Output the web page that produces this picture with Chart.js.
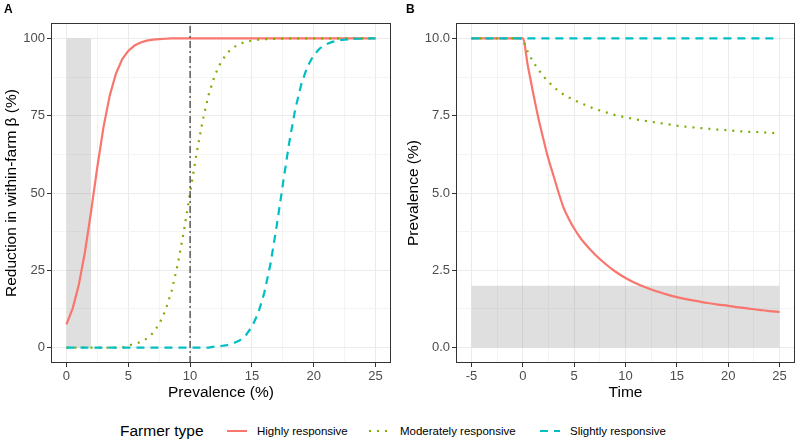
<!DOCTYPE html>
<html><head><meta charset="utf-8">
<script src="https://cdn.jsdelivr.net/npm/chart.js@4/dist/chart.umd.min.js"></script>
<style>
body{margin:0;background:#fff;width:797px;height:440px;overflow:hidden;position:relative;font-family:"Liberation Sans",Arial,sans-serif;}
canvas{position:absolute;top:0}
#cA{left:0}
#cB{left:400px}
.lbl{position:absolute;font-weight:bold;font-size:12px;line-height:14px;color:#000}
.lg{position:absolute;white-space:nowrap;color:#000}
.lgt{font-size:15.5px;line-height:18px;top:422px}
.lgi{font-size:11.5px;line-height:14px;top:424px}
svg.key{position:absolute;top:426px;width:20px;height:10px}
</style></head><body>
<canvas id="cA" width="400" height="410"></canvas>
<canvas id="cB" width="397" height="410"></canvas>
<div class="lbl" style="left:4px;top:2px">A</div>
<div class="lbl" style="left:406px;top:2px">B</div>
<div class="lg lgt" style="left:120px">Farmer type</div>
<svg class="key" style="left:227px"><line x1="0" y1="5" x2="20" y2="5" stroke="#F8766D" stroke-width="2"/></svg>
<div class="lg lgi" style="left:257px" id="l0"></div>
<svg class="key" style="left:369px"><line x1="0" y1="5" x2="20" y2="5" stroke="#7CAE00" stroke-width="2" stroke-dasharray="2 6"/></svg>
<div class="lg lgi" style="left:400px" id="l1"></div>
<svg class="key" style="left:540px"><line x1="0" y1="5" x2="20" y2="5" stroke="#00BFC4" stroke-width="2" stroke-dasharray="8 6"/></svg>
<div class="lg lgi" style="left:570px" id="l2"></div>
<script>
// ---------- data ----------
const seriesNames = ['Highly responsive','Moderately responsive','Slightly responsive'];
const seriesColors = ['#F8766D','#7CAE00','#00BFC4'];

// Panel A: prevalence (%) vs reduction in within-farm beta (%)
const prevA = [0,0.5,1,1.5,2,2.5,3,3.5,4,4.5,5,5.5,6,6.5,7,7.5,8,8.5,9,9.5,10,10.5,11,11.5,12,12.5,13,13.5,14,14.5,15,15.5,16,16.5,17,17.5,18,18.5,19,19.5,20,20.5,21,21.5,22,22.5,23,23.5,24,24.5,25];
const highA = [7.5,12.6,20.3,31,44.3,58.5,71.4,81.5,88.6,93.2,96,97.7,98.7,99.3,99.6,99.8,99.9,100,100,100,100,100,100,100,100,100,100,100,100,100,100,100,100,100,100,100,100,100,100,100,100,100,100,100,100,100,100,100,100,100,100];
const modA = [0,0,0,0,0,0,0,0,0,0,0.7,1.1,1.8,2.9,4.7,7.6,11.9,18.2,26.9,37.8,50,62.2,73.1,81.8,88.1,92.4,95.3,97.1,98.2,98.9,99.3,99.6,99.75,99.85,99.9,99.95,100,100,100,100,100,100,100,100,100,100,100,100,100,100,100];
const slightA = [0,0,0,0,0,0,0,0,0,0,0,0,0,0,0,0,0,0,0,0,0,0,0,0,0.3,0.5,0.8,1.35,2.3,3.95,6.7,11,17.7,27,39.2,52.7,65.9,77,85.3,91,94.6,96.8,98.1,98.9,99.4,99.6,99.8,99.9,99.95,100,100];
const thresholdA = 10;            // vertical dash-dot line
const shadeAx = [0,2], shadeAy = 100;

// Panel B: time vs prevalence (%)
const timeB = [-5,0,0.5,1,1.5,2,2.5,3,3.5,4,4.5,5,5.5,6,7,8,9,10,11,12,13,14,15,16,17,18,19,20,21,22,23,24,25];
const highB = [10,10,9.1,8.25,7.45,6.75,6.1,5.55,5.0,4.5,4.15,3.85,3.6,3.38,3.02,2.72,2.46,2.25,2.08,1.94,1.82,1.72,1.63,1.56,1.5,1.44,1.39,1.35,1.3,1.26,1.22,1.18,1.15];
const modB = [10,10,9.55,9.25,9.0,8.78,8.6,8.43,8.3,8.18,8.09,8.01,7.93,7.86,7.72,7.62,7.52,7.45,7.38,7.33,7.28,7.23,7.18,7.14,7.11,7.08,7.05,7.03,7.0,6.98,6.97,6.95,6.93];
const timeSlightB = [-5,25];
const slightB = [10,10];
const shadeBx = [-5,25], shadeBy = 2;

// ticks
const xTicksA = [0,5,10,15,20,25];
const yTicksA = [0,25,50,75,100];
const xTicksB = [-5,0,5,10,15,20,25];
const yTicksB = [0,2.5,5,7.5,10];

// ---------- helpers ----------
const FF = '"Liberation Sans", Arial, sans-serif';
seriesNames.forEach((n,i)=>document.getElementById('l'+i).textContent=n);
const pts = (xs,ys)=>xs.map((x,i)=>({x:x,y:ys[i]}));
function withMinors(m){const r=[];for(let i=0;i<m.length;i++){r.push(m[i]);if(i<m.length-1)r.push((m[i]+m[i+1])/2);}return r;}
function expand(m){const a=m[0],b=m[m.length-1],d=(b-a)*0.05;return [a-d,b+d];}

function axis(pos, majors, title, fmt, titlePad, size){
  const [mn,mx] = expand(majors);
  return {
    type:'linear', position:pos, min:mn, max:mx,
    afterBuildTicks:s=>{s.ticks=withMinors(majors).map(v=>({value:v}));},
    afterFit:s=>{ if(pos==='left') s.width=size; else s.height=size; },
    ticks:{autoSkip:false,maxRotation:0,minRotation:0,padding:pos==='left'?2:2,color:'#4D4D4D',
      font:{size:13,family:FF}, callback:v=>majors.includes(v)?fmt(v):''},
    grid:{color:c=>majors.includes(c.tick.value)?'#EBEBEB':'#F4F4F4',lineWidth:1,
      drawTicks:true,tickLength:4,tickWidth:1,
      tickColor:c=>majors.includes(c.tick.value)?'#333333':'rgba(0,0,0,0)'},
    border:{display:false},
    title:{display:true,text:title,color:'#000',font:{size:15.5,family:FF},padding:titlePad}
  };
}
const boxPlugin = {id:'box', afterDatasetsDraw(ch){const a=ch.chartArea,c=ch.ctx;c.save();c.strokeStyle='#333';c.lineWidth=1;
  c.strokeRect(Math.round(a.left)+0.5,Math.round(a.top)+0.5,Math.round(a.right-a.left)-1,Math.round(a.bottom-a.top)-1);c.restore();}};

function line(data,color,dash,width){return {data:data,borderColor:color,borderWidth:width||2,borderDash:dash||[],
  pointRadius:0,fill:false,tension:0,borderCapStyle:'butt',borderJoinStyle:'round'};}
function shade(data){return {data:data,borderColor:'rgba(0,0,0,0)',borderWidth:0,pointRadius:0,
  backgroundColor:'rgba(128,128,128,0.25)',fill:'origin',tension:0};}

const common = (xs,ys,padR)=>({
  responsive:false, animation:false, devicePixelRatio:1,
  layout:{padding:{top:23,right:padR,left:0,bottom:0}},
  plugins:{legend:{display:false},tooltip:{enabled:false}},
  scales:{x:xs,y:ys}
});

// ---------- Panel A ----------
const yRA = expand(yTicksA);
new Chart(document.getElementById('cA'),{
  type:'line',
  data:{datasets:[
    line([{x:thresholdA,y:yRA[0]},{x:thresholdA,y:yRA[1]}],'#333333',[7,3,2,3],1.2),
    line(pts(prevA,slightA),seriesColors[2],[8,6],2.2),
    line(pts(prevA,modA),seriesColors[1],[2,6],2.2),
    line(pts(prevA,highA),seriesColors[0],[],2.2),
    shade(shadeAx.map(x=>({x:x,y:shadeAy})))
  ]},
  options:common(
    axis('bottom',xTicksA,'Prevalence (%)',v=>String(v),{top:0,bottom:8},47),
    axis('left',yTicksA,'Reduction in within-farm \u03B2 (%)',v=>String(v),{top:2.5,bottom:0},51),9),
  plugins:[boxPlugin]
});

// ---------- Panel B ----------
new Chart(document.getElementById('cB'),{
  type:'line',
  data:{datasets:[
    line(pts(timeSlightB,slightB),seriesColors[2],[8,6],2.2),
    line(pts(timeB,modB),seriesColors[1],[2,6],2.2),
    Object.assign(line(pts(timeB,highB),seriesColors[0],[],2.2),{cubicInterpolationMode:'monotone'}),
    shade(shadeBx.map(x=>({x:x,y:shadeBy})))
  ]},
  options:common(
    axis('bottom',xTicksB,'Time',v=>String(v),{top:0,bottom:8},47),
    axis('left',yTicksB,'Prevalence (%)',v=>v.toFixed(1),{top:4,bottom:0},56),2),
  plugins:[boxPlugin]
});
</script>
</body></html>
